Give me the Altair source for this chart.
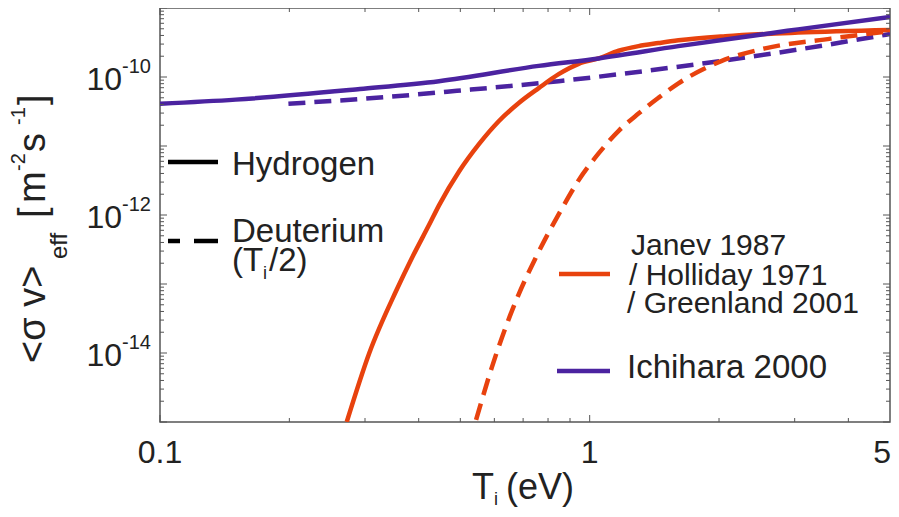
import altair as alt
import pandas as pd

# ---------------- data ----------------
# Janev 1987 / Holliday 1971 / Greenland 2001 - Hydrogen (solid)
T_janev_H = [0.272, 0.307, 0.355, 0.386, 0.423, 0.446, 0.497, 0.553, 0.615, 0.684, 0.761, 0.847,
             0.943, 1.049, 1.168, 1.299, 1.446, 1.609, 2.068, 3.054, 5.0]
sv_janev_H = [1.0e-15, 1.0e-14, 8.1e-14, 2.4e-13, 7.2e-13, 1.38e-12, 4.3e-12, 1.07e-11, 2.3e-11,
              4.2e-11, 6.9e-11, 1.1e-10, 1.55e-10, 1.86e-10, 2.4e-10, 2.8e-10, 3.1e-10, 3.4e-10,
              3.9e-10, 4.4e-10, 4.8e-10]
# Janev - Deuterium (dashed)
T_janev_D = [0.544, 0.592, 0.674, 0.749, 0.856, 0.943, 1.049, 1.168, 1.299, 1.446, 1.609, 2.024,
             2.561, 3.643, 5.0]
sv_janev_D = [1.07e-15, 6.2e-15, 5.75e-14, 2.4e-13, 1.15e-12, 3.2e-12, 7.8e-12, 1.66e-11, 2.95e-11,
              5.0e-11, 8.1e-11, 1.7e-10, 2.6e-10, 3.6e-10, 4.6e-10]
# Ichihara 2000 - Hydrogen (solid)
T_ichi_H = [0.1, 0.15, 0.292, 0.446, 0.761, 1.049, 1.609, 3.054, 5.0]
sv_ichi_H = [4.1e-11, 4.7e-11, 6.7e-11, 8.7e-11, 1.45e-10, 1.86e-10, 2.8e-10, 4.9e-10, 7.4e-10]
# Ichihara 2000 - Deuterium (dashed)
T_ichi_D = [0.199, 0.333, 0.491, 0.847, 1.525, 3.054, 5.0]
sv_ichi_D = [4.1e-11, 5.1e-11, 6.3e-11, 8.7e-11, 1.35e-10, 2.5e-10, 4.2e-10]

x_tick_values = [0.1, 1]
x_tick_labels = ["0.1", "1"]
x_end_value = [5]
x_end_label = ["5"]
x_major_ticks = [0.1, 1]
x_minor_ticks = [0.2, 0.3, 0.4, 0.5, 0.6, 0.7, 0.8, 0.9, 2, 3, 4]
y_label_values = [1e-10, 1e-12, 1e-14]
y_label_exps = ["-10", "-12", "-14"]
y_major_ticks = [1e-15, 1e-14, 1e-13, 1e-12, 1e-11, 1e-10, 1e-9]
y_minor_ticks = [k * 10.0 ** n for n in range(-15, -9) for k in range(2, 10)]

legend_style_labels = ["Hydrogen", "Deuterium"]
legend_source_labels = ["Janev 1987", "/ Holliday 1971", "/ Greenland 2001", "Ichihara 2000"]

# ---------------- styling ----------------
W, H = 730, 414
FONT = "Liberation Sans"
RED = "#E8420E"
PURPLE = "#4B23A0"
TXT = "#222222"
AX = "#555555"
DASH = [17, 9]

xs = alt.Scale(type="log", domain=[0.1, 5])
ys = alt.Scale(type="log", domain=[1e-15, 1e-9])


def curve(T, S, color, dash=None):
    df = pd.DataFrame({"T": T, "S": S})
    kw = dict(color=color, strokeWidth=4.5, clip=True, interpolate="monotone")
    if dash:
        kw["strokeDash"] = dash
    return alt.Chart(df).mark_line(**kw).encode(
        x=alt.X("T:Q", scale=xs, axis=None),
        y=alt.Y("S:Q", scale=ys, axis=None),
    )


def xticks(vals, length):
    df = pd.DataFrame({"T": vals})
    base = alt.Chart(df).mark_rule(color=AX, strokeWidth=1)
    bottom = base.encode(x=alt.X("T:Q", scale=xs, axis=None), y=alt.value(H), y2=alt.value(H - length))
    top = base.encode(x=alt.X("T:Q", scale=xs, axis=None), y=alt.value(0), y2=alt.value(length))
    return [bottom, top]


def yticks(vals, length):
    df = pd.DataFrame({"S": vals})
    base = alt.Chart(df).mark_rule(color=AX, strokeWidth=1)
    left = base.encode(y=alt.Y("S:Q", scale=ys, axis=None), x=alt.value(0), x2=alt.value(length))
    right = base.encode(y=alt.Y("S:Q", scale=ys, axis=None), x=alt.value(W), x2=alt.value(W - length))
    return [left, right]


def label(text, x, y, size, align="left", angle=0):
    df = pd.DataFrame({"t": [text]})
    kw = dict(align=align, baseline="alphabetic", fontSize=size, font=FONT, color=TXT)
    if angle:
        kw["angle"] = angle
    return alt.Chart(df).mark_text(**kw).encode(x=alt.value(x), y=alt.value(y), text="t:N")


def seg(x1, x2, y, color, width=4.5):
    df = pd.DataFrame({"a": [0]})
    return alt.Chart(df).mark_rule(color=color, strokeWidth=width).encode(
        x=alt.value(x1), x2=alt.value(x2), y=alt.value(y)
    )


layers = [
    curve(T_ichi_D, sv_ichi_D, PURPLE, DASH),
    curve(T_janev_D, sv_janev_D, RED, DASH),
    curve(T_janev_H, sv_janev_H, RED),
    curve(T_ichi_H, sv_ichi_H, PURPLE),
]

layers += xticks(x_major_ticks, 7) + xticks(x_minor_ticks, 4)
layers += yticks(y_major_ticks, 7) + yticks(y_minor_ticks, 4)

# x tick labels
xl = pd.DataFrame({"T": x_tick_values, "lab": x_tick_labels})
layers.append(alt.Chart(xl).mark_text(align="center", baseline="alphabetic", fontSize=32,
                                      font=FONT, color=TXT).encode(
    x=alt.X("T:Q", scale=xs, axis=None), y=alt.value(455), text="lab:N"))
xe = pd.DataFrame({"T": x_end_value, "lab": x_end_label})
layers.append(alt.Chart(xe).mark_text(align="right", baseline="alphabetic", fontSize=32, dx=1,
                                      font=FONT, color=TXT).encode(
    x=alt.X("T:Q", scale=xs, axis=None), y=alt.value(455), text="lab:N"))

# y tick labels 10^exp
yl = pd.DataFrame({"S": y_label_values, "e": y_label_exps, "ten": ["10"] * 3})
layers.append(alt.Chart(yl).mark_text(align="right", baseline="alphabetic", fontSize=32, dy=13,
                                      font=FONT, color=TXT).encode(
    y=alt.Y("S:Q", scale=ys, axis=None), x=alt.value(-38), text="ten:N"))
layers.append(alt.Chart(yl).mark_text(align="left", baseline="alphabetic", fontSize=20, dy=-4,
                                      font=FONT, color=TXT).encode(
    y=alt.Y("S:Q", scale=ys, axis=None), x=alt.value(-38), text="e:N"))

# x title  T_i (eV)
layers.append(label("T", 312, 491, 36))
layers.append(label("i", 334, 497, 18))
layers.append(label("(eV)", 346, 491, 36))

# y title  <σ v>_eff [m^-2 s^-1]  (rotated)
layers.append(label("<σ v>", -115, 355, 38, angle=270))
layers.append(label("eff", -93, 251, 24, angle=270))
layers.append(label("[", -115, 210, 38, angle=270))
layers.append(label("m", -115, 195, 38, angle=270))
layers.append(label("-2", -135, 163, 20, angle=270))
layers.append(label("s", -115, 144, 38, angle=270))
layers.append(label("-1", -135, 117, 20, angle=270))
layers.append(label("]", -115, 97, 38, angle=270))

# legend: line styles
layers.append(seg(8, 58, 154, "black"))
layers.append(seg(8, 20, 233, "black"))
layers.append(seg(34, 58, 233, "black"))
layers.append(label(legend_style_labels[0], 72, 167, 33))
layers.append(label(legend_style_labels[1], 72, 234, 33))
layers.append(label("(T", 72, 263, 33))
layers.append(label("i", 103, 271, 18))
layers.append(label("/2)", 109, 263, 33))

# legend: sources
layers.append(seg(399, 450, 266, RED))
layers.append(seg(397, 450, 363, PURPLE))
layers.append(label(legend_source_labels[0], 471, 247, 30))
layers.append(label(legend_source_labels[1], 469, 277, 30))
layers.append(label(legend_source_labels[2], 467, 305, 30))
layers.append(label(legend_source_labels[3], 467, 370, 33))

chart = alt.layer(*layers).properties(
    width=W, height=H,
    autosize=alt.AutoSizeParams(type="none"),
    padding={"left": 152, "top": 0, "right": 1, "bottom": 86},
).configure_view(stroke=AX, strokeWidth=1.5)

chart.save("out.html", embed_options={"renderer": "svg", "actions": False})
